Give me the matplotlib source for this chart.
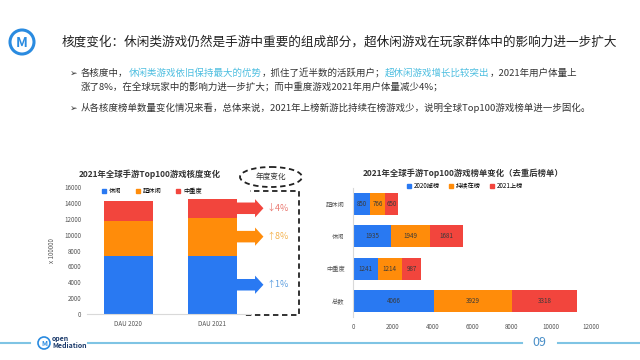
import matplotlib
matplotlib.use('Agg')
import matplotlib.pyplot as plt
from matplotlib.patches import Rectangle, Ellipse, FancyArrow, Circle
from matplotlib.lines import Line2D

plt.rcParams['font.family'] = ['Noto Sans CJK SC', 'DejaVu Sans']

# left chart data (x 100000)
years = ['DAU 2020', 'DAU 2021']
casual = [7300, 7370]
hyper = [4400, 4750]
midcore = [2500, 2400]
change_text = ['↑1%', '↑8%', '↓4%']

# right chart data
cats = ['总数', '中重度', '休闲', '超休闲']
dropped = [4066, 1241, 1935, 850]
stayed = [3929, 1214, 1949, 766]
newly = [3318, 987, 1681, 650]

BLUE = '#2979F2'
ORANGE = '#FF8C0A'
RED = '#F2453D'
CYAN = '#4DBEE0'
LINE = '#7FC4E4'

fig = plt.figure(figsize=(6.4, 3.6), dpi=100)
W, H = 640, 360

# background overlay in pixel coords
bg = fig.add_axes([0, 0, 1, 1])
bg.set_xlim(0, 640)
bg.set_ylim(360, 0)
bg.axis('off')

# header logo
bg.add_patch(Circle((22, 42), 12, fill=False, ec='#2A8BE0', lw=2.2))
bg.text(22, 43, 'M', ha='center', va='center', fontsize=10, color='#2A8BE0', fontweight='bold')
bg.text(62, 42, '核度变化：休闲类游戏仍然是手游中重要的组成部分，超休闲游戏在玩家群体中的影响力进一步扩大',
        fontsize=9.1, color='#222222', va='center', ha='left')

# bullets
def chain(x, y, parts, size=6.8):
    t = bg.text(x, y, parts[0][0], color=parts[0][1], fontsize=size, va='center', ha='left')
    for s, c in parts[1:]:
        t = bg.annotate(s, xy=(1, 0), xycoords=t, va='bottom', ha='left', color=c, fontsize=size)

dark = '#333333'
bg.text(70, 73, '➢', fontsize=6.5, va='center', ha='left', color=dark, family=['DejaVu Sans'])
chain(81, 73, [('各核度中，', dark), ('休闲类游戏依旧保持最大的优势', CYAN),
               ('，抓住了近半数的活跃用户；', dark), ('超休闲游戏增长比较突出', CYAN),
               ('，2021年用户体量上', dark)])
chain(81, 87, [('涨了8%，在全球玩家中的影响力进一步扩大；而中重度游戏2021年用户体量减少4%；', dark)])
bg.text(70, 108, '➢', fontsize=6.5, va='center', ha='left', color=dark, family=['DejaVu Sans'])
chain(81, 108, [('从各核度榜单数量变化情况来看，总体来说，2021年上榜新游比持续在榜游戏少，说明全球Top100游戏榜单进一步固化。', dark)])

# footer
bg.add_line(Line2D([0, 30], [343, 343], color=LINE, lw=1.5))
bg.add_line(Line2D([88, 522], [343, 343], color=LINE, lw=1.5))
bg.add_line(Line2D([558, 640], [343, 343], color=LINE, lw=1.5))
bg.add_patch(Circle((44, 343), 6, fill=False, ec='#2A8BE0', lw=1.2))
bg.text(44, 343.5, 'M', ha='center', va='center', fontsize=5, color='#2A8BE0', fontweight='bold')
bg.text(52, 338, 'open', fontsize=5, color='#1B3A6B', va='center', ha='left', fontweight='bold')
bg.text(52, 346, 'Mediation', fontsize=5, color='#1B3A6B', va='center', ha='left', fontweight='bold')
bg.text(539, 343, '09', fontsize=9, color='#4A8FC8', va='center', ha='center')

def sq(c):
    return Line2D([], [], ls='none', marker='s', markersize=3, color=c)

# ---------------- left chart ----------------
ax1 = fig.add_axes([87 / W, 1 - 314 / H, 163 / W, 127 / H])
x = [0, 1]
bw = 0.58
ax1.bar(x, casual, bw, color=BLUE)
ax1.bar(x, hyper, bw, bottom=casual, color=ORANGE)
bot2 = [a + b for a, b in zip(casual, hyper)]
ax1.bar(x, midcore, bw, bottom=bot2, color=RED)
ax1.set_xlim(-0.49, 1.45)
ax1.set_ylim(0, 16000)
ax1.set_yticks(range(0, 16001, 2000))
ax1.set_xticks(x)
ax1.set_xticklabels(years)
ax1.tick_params(labelsize=4.5, length=0, colors='#555555', pad=4)
for s in ['top', 'right', 'left']:
    ax1.spines[s].set_visible(False)
ax1.spines['bottom'].set_color('#D9D9D9')
ax1.set_ylabel('x 100000', fontsize=4.5, color='#555555', labelpad=6)
fig.legend([sq(BLUE), sq(ORANGE), sq(RED)], ['休闲', '超休闲', '中重度'], ncol=3, fontsize=4.5,
           frameon=False, loc='center', bbox_to_anchor=(152 / W, 1 - 191 / H),
           handlelength=0.6, handletextpad=0.45, columnspacing=2.4, borderpad=0)
fig.text(150 / W, 1 - 174 / H, '2021年全球手游Top100游戏核度变化', fontsize=6, fontweight='bold',
         ha='center', va='center', color='#333333')

# yearly change arrows, at segment middles of 2021 bar
mids = [casual[1] / 2, casual[1] + hyper[1] / 2, bot2[1] + midcore[1] / 2]
acols = [BLUE, ORANGE, RED]
tcols = ['#5E9FE0', '#F4B350', '#EA7A72']
for ym, c, tc, t in zip(mids, acols, tcols, change_text):
    ax1.add_patch(FancyArrow(1.27, ym, 0.34, 0, width=1450, head_width=2300, head_length=0.1,
                             length_includes_head=True, color=c, clip_on=False, lw=0))
    ax1.text(1.65, ym, t, fontsize=6.5, color=tc, va='center', ha='left', clip_on=False)

bg.add_patch(Rectangle((245, 191), 54, 124, fill=False, ec='#222222', lw=1.3, ls=(0, (3, 2))))
bg.add_patch(Ellipse((271, 177), 62, 20, fill=False, ec='#222222', lw=1.3, ls=(0, (3, 2))))
bg.text(271, 177, '年度变化', fontsize=5.5, ha='center', va='center', color='#333333')

# ---------------- right chart ----------------
ax2 = fig.add_axes([353 / W, 1 - 317 / H, 238 / W, 129 / H])
y = range(len(cats))
bh = 0.68
ax2.barh(y, dropped, bh, color=BLUE)
ax2.barh(y, stayed, bh, left=dropped, color=ORANGE)
left3 = [a + b for a, b in zip(dropped, stayed)]
ax2.barh(y, newly, bh, left=left3, color=RED)
for i in y:
    ax2.text(dropped[i] / 2, i, str(dropped[i]), fontsize=4.5, ha='center', va='center', color='#3A3A3A')
    ax2.text(dropped[i] + stayed[i] / 2, i, str(stayed[i]), fontsize=4.5, ha='center', va='center', color='#3A3A3A')
    ax2.text(left3[i] + newly[i] / 2, i, str(newly[i]), fontsize=4.5, ha='center', va='center', color='#3A3A3A')
ax2.set_xlim(0, 12000)
ax2.set_ylim(-0.5, 3.5)
ax2.set_xticks(range(0, 12001, 2000))
ax2.set_yticks(list(y))
ax2.set_yticklabels(cats)
ax2.tick_params(labelsize=4.5, length=0, colors='#555555')
ax2.tick_params(axis='x', pad=4)
ax2.tick_params(axis='y', pad=6)
for s in ['top', 'right', 'bottom']:
    ax2.spines[s].set_visible(False)
ax2.spines['left'].set_color('#D9D9D9')
fig.legend([sq(BLUE), sq(ORANGE), sq(RED)], ['2020掉榜', '持续在榜', '2021上榜'], ncol=3, fontsize=4.5,
           frameon=False, loc='center', bbox_to_anchor=(465 / W, 1 - 186 / H),
           handlelength=0.6, handletextpad=0.45, columnspacing=1.5, borderpad=0)
fig.text(463 / W, 1 - 173 / H, '2021年全球手游Top100游戏榜单变化（去重后榜单）', fontsize=6, fontweight='bold',
         ha='center', va='center', color='#333333')

fig.savefig('out.png', dpi=100)
